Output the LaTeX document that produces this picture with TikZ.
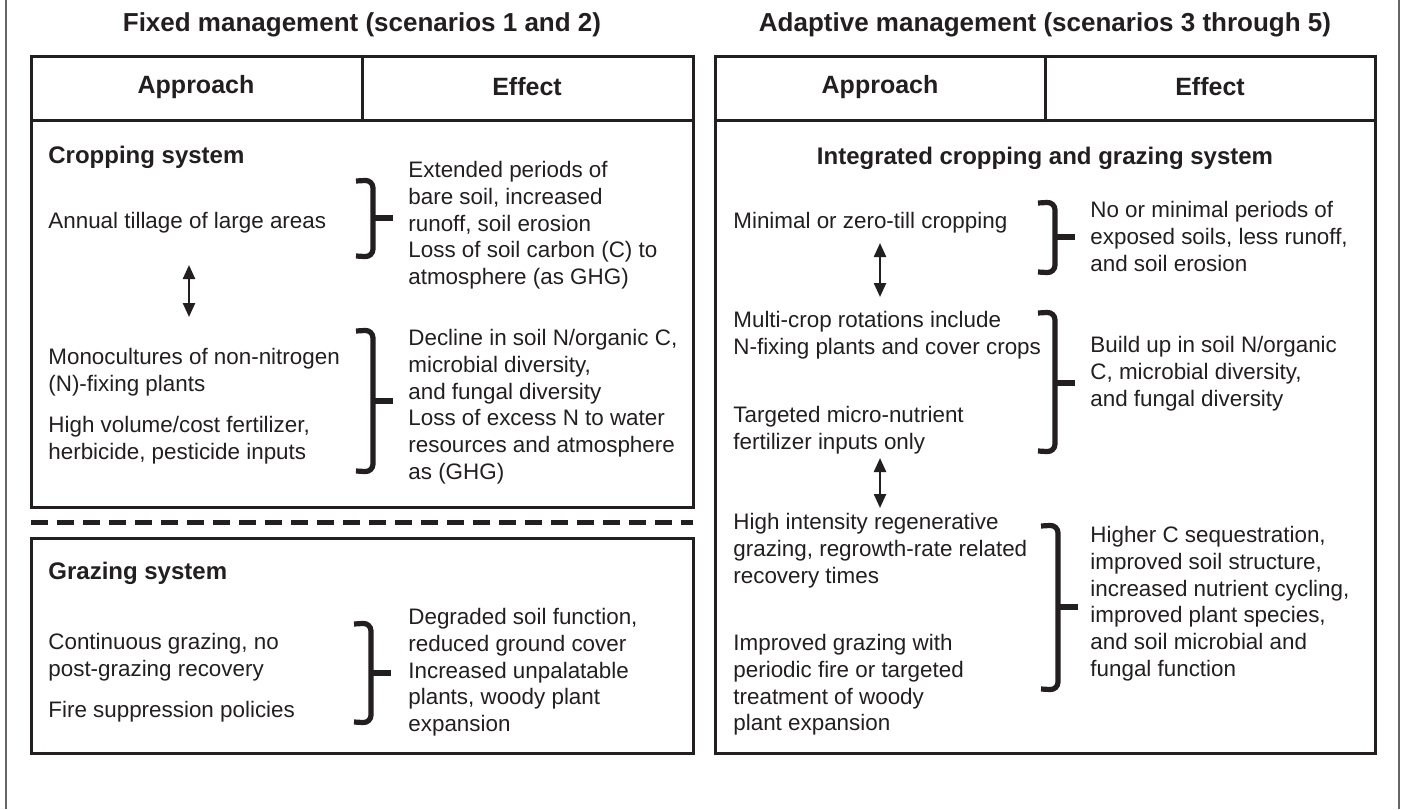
\documentclass[tikz,border=0pt]{standalone}
\usepackage{fontspec}
\setmainfont{Liberation Sans}
\usetikzlibrary{arrows.meta}
\definecolor{ink}{HTML}{231F20}
\newcommand{\effbrace}[5]{% x-vertical, top, bottom, mid, name
  \draw[bracestyle] ({#1-17},{#2+1}) -- (#1,#2) -- (#1,#4) -- (#1,#3) -- ({#1-17},{#3-1});
  \coordinate (#5) at ({#1+20},#4);
  \draw[bracestyle, rounded corners=0pt] (#1,#4) -- (#5);
}
\begin{document}
\begin{tikzpicture}[x=0.5pt,y=-0.5pt,
  titletext/.style={font=\fontsize{13pt}{15pt}\selectfont\bfseries, inner sep=0pt, text=ink},
  headtext/.style={font=\fontsize{12.5pt}{15pt}\selectfont\bfseries, inner sep=0pt, text=ink},
  systext/.style={font=\fontsize{12pt}{14pt}\selectfont\bfseries, inner sep=0pt, text=ink},
  bodyblock/.style={font=\fontsize{11.2pt}{13.35pt}\selectfont, align=left, anchor=north west, inner sep=0pt, text=ink},
  bodyline/.style={font=\fontsize{11.2pt}{13.35pt}\selectfont, anchor=west, inner sep=0pt, text=ink},
  boxline/.style={draw=ink, line width=1.5pt},
  sepline/.style={draw=ink, line width=2.5pt, dash pattern=on 8.5pt off 4.5pt},
  framerule/.style={draw=black!60, line width=0.6pt},
  bracestyle/.style={draw=ink, line width=2.6pt, rounded corners=4pt},
  twoway/.style={draw=ink, line width=1.2pt, {Triangle[length=7pt,width=6pt]}-{Triangle[length=7pt,width=6pt]}}
]
\useasboundingbox (0,0) rectangle (1402,809);
\fill[white] (0,0) rectangle (1402,809);
% outer thin rules
\draw[framerule] (6,0) -- (6,809);
\draw[framerule] (1399,0) -- (1399,809);

% ---------- titles ----------
\node[titletext] (tL) at (362,25) {Fixed management (scenarios 1 and 2)};
\node[titletext] (tR) at (1045,25) {Adaptive management (scenarios 3 through 5)};

% ---------- left boxes ----------
\draw[boxline] (31,56) rectangle (693,507);
\draw[boxline] (31,120) -- (693,120);
\draw[boxline] (362,56) -- (362,120);
\node[headtext] (hLa) at (196,87) {Approach};
\node[headtext] (hLe) at (527,87) {Effect};
\draw[sepline] (31,522) -- (693,522);
\draw[boxline] (31,538) rectangle (693,753);

% ---------- right box ----------
\draw[boxline] (715,56) rectangle (1375,753);
\draw[boxline] (715,120) -- (1375,120);
\draw[boxline] (1045,56) -- (1045,120);
\node[headtext] (hRa) at (880,87) {Approach};
\node[headtext] (hRe) at (1210,87) {Effect};

% ---------- left: cropping ----------
\node[systext, anchor=west] (crop) at (48,157) {Cropping system};
\node[bodyline] (a1) at (48,223) {Annual tillage of large areas};
\node[bodyblock] (a2) at (48,348) {Monocultures of non-nitrogen\\(N)-fixing plants};
\node[bodyblock] (a3) at (48,416) {High volume/cost fertilizer,\\herbicide, pesticide inputs};
\coordinate (ar1t) at (189,265);
\coordinate (ar1b) at (189,317);
\draw[twoway] (ar1t) -- (ar1b);

\node[bodyblock] (e1) at (408,161) {Extended periods of\\bare soil, increased\\runoff, soil erosion\\Loss of soil carbon (C) to\\atmosphere (as GHG)};
\node[bodyblock] (e2) at (408,329) {Decline in soil N/organic C,\\microbial diversity,\\and fungal diversity\\Loss of excess N to water\\resources and atmosphere\\as (GHG)};
\effbrace{373}{180}{257}{218}{b1}
\effbrace{373}{330}{472}{401}{b2}

% ---------- left: grazing ----------
\node[systext, anchor=west] (graze) at (48,573) {Grazing system};
\node[bodyblock] (g1) at (48,633) {Continuous grazing, no\\post-grazing recovery};
\node[bodyline] (g2) at (48,712) {Fire suppression policies};
\node[bodyblock] (ge) at (408,608) {Degraded soil function,\\reduced ground cover\\Increased unpalatable\\plants, woody plant\\expansion};
\effbrace{371}{623}{723}{673}{b3}

% ---------- right: integrated ----------
\node[systext] (integ) at (1045,158) {Integrated cropping and grazing system};
\node[bodyline] (r1) at (733,223) {Minimal or zero-till cropping};
\node[bodyblock] (r2) at (733,311) {Multi-crop rotations include\\N-fixing plants and cover crops};
\node[bodyblock] (r3) at (733,406) {Targeted micro-nutrient\\fertilizer inputs only};
\node[bodyblock] (r4) at (733,513) {High intensity regenerative\\grazing, regrowth-rate related\\recovery times};
\node[bodyblock] (r5) at (733,634) {Improved grazing with\\periodic fire or targeted\\treatment of woody\\plant expansion};
\coordinate (ar2t) at (880,243);
\coordinate (ar2b) at (880,297);
\draw[twoway] (ar2t) -- (ar2b);
\coordinate (ar3t) at (880,458);
\coordinate (ar3b) at (880,508);
\draw[twoway] (ar3t) -- (ar3b);

\node[bodyblock] (re1) at (1090,201) {No or minimal periods of\\exposed soils, less runoff,\\and soil erosion};
\node[bodyblock] (re2) at (1090,336) {Build up in soil N/organic\\C, microbial diversity,\\and fungal diversity};
\node[bodyblock] (re3) at (1090,526) {Higher C sequestration,\\improved soil structure,\\increased nutrient cycling,\\improved plant species,\\and soil microbial and\\fungal function};
\effbrace{1055}{202}{273}{237}{b4}
\effbrace{1055}{312}{452}{383}{b5}
\effbrace{1058}{525}{690}{607}{b6}
\end{tikzpicture}
\end{document}
